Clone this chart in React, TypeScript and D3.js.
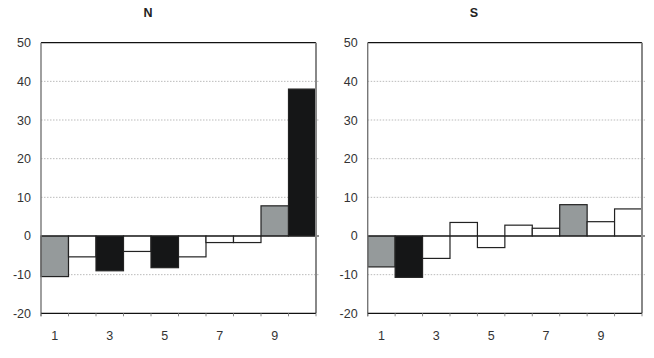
import React from "react";
import * as d3 from "d3";

const categories = [1, 2, 3, 4, 5, 6, 7, 8, 9, 10];
const xTickLabels = ["1", "3", "5", "7", "9"];
const yTicks = [-20, -10, 0, 10, 20, 30, 40, 50];
const nValues = [-10.5, -5.4, -9, -4, -8.2, -5.4, -1.7, -1.7, 7.8, 38];
const nColors = ["gray", "white", "black", "white", "black", "white", "white", "white", "gray", "black"];
const sValues = [-8, -10.7, -5.8, 3.5, -3, 2.8, 2, 8.1, 3.7, 7];
const sColors = ["gray", "black", "white", "white", "white", "white", "white", "gray", "white", "white"];
const panelTitles = ["N", "S"];

const FILL: Record<string, string> = { gray: "#959a9b", black: "#151617", white: "#ffffff" };

function Panel({ x0, x1, title, titleX, values, colors }: any) {
  const y = d3.scaleLinear().domain([-20, 50]).range([313.3, 42.7]);
  const x = d3.scaleBand<number>().domain(categories).range([x0, x1]).paddingInner(0).paddingOuter(0);
  const font = "Liberation Sans, Arial, sans-serif";
  return (
    <g>
      <text x={titleX} y={17} textAnchor="middle" fontFamily={font} fontWeight="bold" fontSize={12.5} fill="#222">{title}</text>
      {yTicks.filter(t => t !== 0 && t !== -20 && t !== 50).map(t => (
        <line key={t} x1={x0} x2={x1 + 3} y1={y(t)} y2={y(t)} stroke="#aaa" strokeWidth={0.8} strokeDasharray="1.5,1.5" />
      ))}
      {values.map((v: number, i: number) => {
        const cx = x(categories[i])!;
        const top = Math.min(y(v), y(0));
        const h = Math.abs(y(v) - y(0));
        return <rect key={i} x={cx} y={top} width={x.bandwidth()} height={h} fill={FILL[colors[i]]} stroke="#222" strokeWidth={1.2} />;
      })}
      <line x1={x0} x2={x1 + 3} y1={y(0)} y2={y(0)} stroke="#222" strokeWidth={1.2} />
      <line x1={x0} x2={x1} y1={y(50)} y2={y(50)} stroke="#111" strokeWidth={1.2} />
      <line x1={x1} x2={x1} y1={y(50)} y2={y(-20)} stroke="#888" strokeWidth={2} />
      <line x1={x0} x2={x0} y1={y(50)} y2={y(-20) + 3} stroke="#777" strokeWidth={1.4} />
      <line x1={x0} x2={x1} y1={y(-20)} y2={y(-20)} stroke="#111" strokeWidth={1.2} />
      {d3.range(0, 11).map(i => {
        const bx = x0 + i * x.bandwidth();
        return <line key={i} x1={bx} x2={bx} y1={y(-20)} y2={y(-20) + 3} stroke="#888" strokeWidth={1} />;
      })}
      {yTicks.map(t => (
        <text key={t} x={x0 - 10} y={y(t) + 4.5} textAnchor="end" fontFamily={font} fontSize={12.5} fill="#333">{t}</text>
      ))}
      {xTickLabels.map(l => {
        const c = +l;
        return <text key={l} x={x(c)! + x.bandwidth() / 2} y={340} textAnchor="middle" fontFamily={font} fontSize={12.5} fill="#333">{l}</text>;
      })}
    </g>
  );
}

export default function App() {
  return (
    <svg width={654} height={358} style={{ position: "absolute", left: 0, top: 0, background: "#fff" }}>
      <rect width={654} height={358} fill="#fff" />
      <Panel x0={41} x1={316} title={panelTitles[0]} titleX={148} values={nValues} colors={nColors} />
      <Panel x0={367.7} x1={642} title={panelTitles[1]} titleX={474} values={sValues} colors={sColors} />
    </svg>
  );
}
